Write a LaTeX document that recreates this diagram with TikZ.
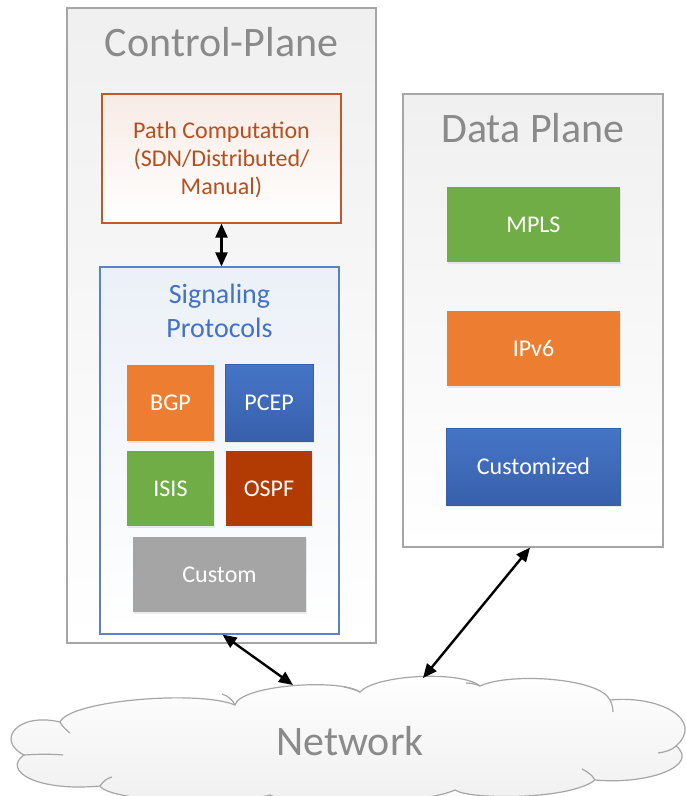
\documentclass[tikz,border=0pt]{standalone}
\usepackage{fontspec}
\setmainfont{Carlito}
\usetikzlibrary{arrows.meta,shadows}
\definecolor{frame}{HTML}{A6A6A6}
\definecolor{titlegray}{HTML}{8A8A8A}
\definecolor{porange}{HTML}{ED7D31}
\definecolor{pgreen}{HTML}{70AD47}
\definecolor{pbluet}{HTML}{4675C6}
\definecolor{pblueb}{HTML}{3760AB}
\definecolor{pred}{HTML}{B23B03}
\definecolor{pgray}{HTML}{A5A5A5}
\definecolor{pathbrown}{HTML}{C0582A}
\definecolor{pathtext}{HTML}{B5501E}
\definecolor{sigblue}{HTML}{5B82C2}
\definecolor{sigtext}{HTML}{4472C4}
\tikzset{
  plane/.style={draw=frame, line width=1.2pt, top color=black!6, bottom color=white, inner sep=0pt},
  titletext/.style={text=titlegray, font=\fontsize{42}{46}\selectfont, inner sep=0pt, anchor=base},
  colbox/.style={line width=0pt, inner sep=0pt, text=white, font=\fontsize{24}{28}\selectfont,
     drop shadow={opacity=0.15, shadow xshift=1pt, shadow yshift=-2pt}},
  bluebox/.style={colbox, draw=pblueb, line width=0.6pt, top color=pbluet, bottom color=pblueb},
  dbl/.style={{Triangle[length=14pt,width=12pt]}-{Triangle[length=14pt,width=12pt]}, line width=2.4pt, black},
  cloudline/.style={draw=frame, line width=1.2pt}
}
\begin{document}
\begin{tikzpicture}[x=1pt,y=-1pt]
\useasboundingbox (0,0) rectangle (686,796);
\fill[white] (0,0) rectangle (686,796);

% planes
\node[plane, minimum width=309pt, minimum height=635pt] (cp) at (221.5,325.5) {};
\node[titletext] (cpt) at (221.5,56) {Control-Plane};
\node[plane, minimum width=260pt, minimum height=453pt] (dp) at (533,320.5) {};
\node[titletext] (dpt) at (533,142) {Data Plane};

% path computation
\node[draw=pathbrown, line width=1.2pt, top color=pathbrown!12, bottom color=white,
      minimum width=239pt, minimum height=129pt, inner sep=0pt] (pc) at (221.5,158.5) {};
\node[text=pathtext, font=\fontsize{24}{28}\selectfont, align=center, inner sep=0pt] (pct) at (221.5,160)
  {Path Computation\\(SDN/Distributed/\\Manual)};

% signaling
\node[draw=sigblue, line width=1.2pt, top color=sigblue!12, bottom color=white,
      minimum width=239pt, minimum height=367pt, inner sep=0pt] (sig) at (219.5,450.5) {};
\node[text=sigtext, font=\fontsize{28}{34}\selectfont, align=center, inner sep=0pt] (sigt) at (219.5,311)
  {Signaling\\Protocols};

\node[colbox, fill=porange, minimum width=87pt, minimum height=76pt] (bgp) at (170.5,402.5) {BGP};
\node[bluebox, minimum width=88pt, minimum height=77pt] (pcep) at (269,402.5) {PCEP};
\node[colbox, fill=pgreen, minimum width=87pt, minimum height=75pt] (isis) at (170.5,488.5) {ISIS};
\node[colbox, fill=pred, minimum width=86pt, minimum height=75pt] (ospf) at (269,488.5) {OSPF};
\node[colbox, fill=pgray, minimum width=173pt, minimum height=75pt] (custom) at (219.5,574.5) {Custom};

% data plane boxes
\node[colbox, fill=pgreen, minimum width=173pt, minimum height=75pt] (mpls) at (533.5,224.5) {MPLS};
\node[colbox, fill=porange, minimum width=173pt, minimum height=75pt] (ipv6) at (533.5,348.5) {IPv6};
\node[bluebox, minimum width=174pt, minimum height=77pt] (cust) at (533.5,466.5) {Customized};

% cloud
\path[cloudline, top color=white, bottom color=black!6]
  (60,722)
  .. controls (70,700) and (200,690) .. (235,705)
  .. controls (240,685) and (340,678) .. (360,692)
  .. controls (375,675) and (460,670) .. (480,686)
  .. controls (510,672) and (600,678) .. (610,700)
  .. controls (660,695) and (705,720) .. (676,746)
  .. controls (700,765) and (650,785) .. (595,780)
  .. controls (570,800) and (470,800) .. (455,790)
  .. controls (420,806) and (290,806) .. (270,795)
  .. controls (230,806) and (110,802) .. (100,786)
  .. controls (35,792) and (2,770) .. (24,755)
  .. controls (-5,740) and (18,712) .. (60,722) -- cycle;
% inner cloud strokes
\draw[cloudline] (235,705) .. controls (233,700) and (228,696) .. (222,694);
\draw[cloudline] (360,692) .. controls (356,690) and (350,688) .. (344,687);
\draw[cloudline] (480,686) .. controls (476,684) and (470,683) .. (466,683);
\draw[cloudline] (610,700) .. controls (612,704) and (613,708) .. (613,712);
\draw[cloudline] (676,746) .. controls (672,750) and (665,752) .. (658,753);
\draw[cloudline] (595,780) .. controls (592,775) and (588,772) .. (582,769);
\draw[cloudline] (100,786) .. controls (104,780) and (108,778) .. (112,777);
\draw[cloudline] (24,755) .. controls (38,754) and (53,754) .. (63,755);
\draw[cloudline] (60,722) .. controls (62,726) and (66,730) .. (70,733);

\node[text=titlegray, font=\fontsize{42}{46}\selectfont, inner sep=0pt, anchor=base] (net) at (350,755) {Network};

\coordinate (cl1) at (293,685);
\coordinate (cl2) at (423,678);

% connectors
\draw[dbl] (pc.south) -- (pc.south |- sig.north);
\draw[dbl] ([xshift=3pt]sig.south) -- (cl1);
\draw[dbl] ([xshift=-3pt]dp.south) -- (cl2);
\end{tikzpicture}
\end{document}
